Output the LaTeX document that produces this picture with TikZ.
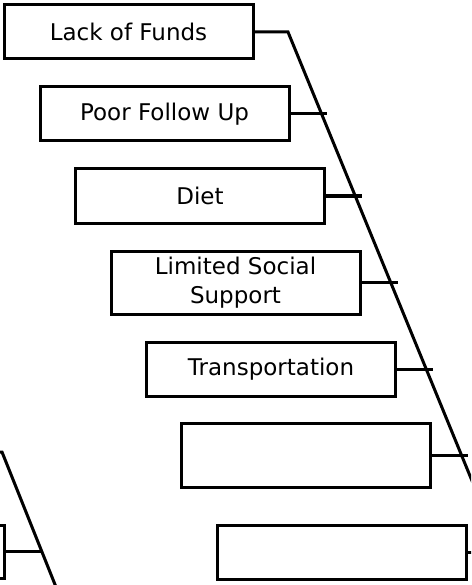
\documentclass[tikz,border=0pt]{standalone}
\usepackage{fontspec}
\setmainfont{DejaVu Sans}
\begin{document}
\begin{tikzpicture}[x=1pt,y=-1pt,line width=3pt,
  cause/.style={draw, rectangle, minimum width=249pt, minimum height=54pt,
    inner sep=0pt, align=center, font=\fontsize{23}{29}\selectfont},
  bone/.style={line width=3pt}]
\useasboundingbox (0,0) rectangle (471,585);
\clip (0,0) rectangle (471,585);

% cause boxes, stepping down and to the right
\node[cause] (c1) at (128.5,32) {Lack of Funds};
\node[cause] (c2) at (164.5,114) {Poor Follow Up};
\node[cause] (c3) at (200,196) {Diet};
\node[cause, minimum height=63pt] (c4) at (235.5,282.5) {Limited Social\\Support};
\node[cause] (c5) at (271,369) {Transportation};
\node[cause, minimum height=64pt] (c6) at (306,455) {};
\node[cause] (c7) at (342,552.5) {};
\node[cause, minimum height=53pt] (c8) at (-120,551.5) {};

% main spine
\coordinate (top) at (288,32);
\coordinate (bot) at (534,632);
\draw[bone] (c1.east) -- (top) -- (bot);

% branches from the boxes towards the spine
\draw[bone] (c2.east) -- ++(36,0) coordinate (b2);
\draw[bone] (c3.east) -- ++(36,0) coordinate (b3);
\draw[bone] (c4.east) -- ++(36,0) coordinate (b4);
\draw[bone] (c5.east) -- ++(36,0) coordinate (b5);
\draw[bone] (c6.east) -- ++(36,0) coordinate (b6);
\draw[bone] (c7.east) -- ++(36,0) coordinate (b7);

% second spine on the left
\coordinate (ltop0) at (-30,452);
\coordinate (ltop) at (2,452);
\coordinate (lbot) at (62,602);
\draw[bone] (ltop0) -- (ltop) -- (lbot);
\draw[bone] (c8.east) -- ++(35,0) coordinate (b8);
\end{tikzpicture}
\end{document}
